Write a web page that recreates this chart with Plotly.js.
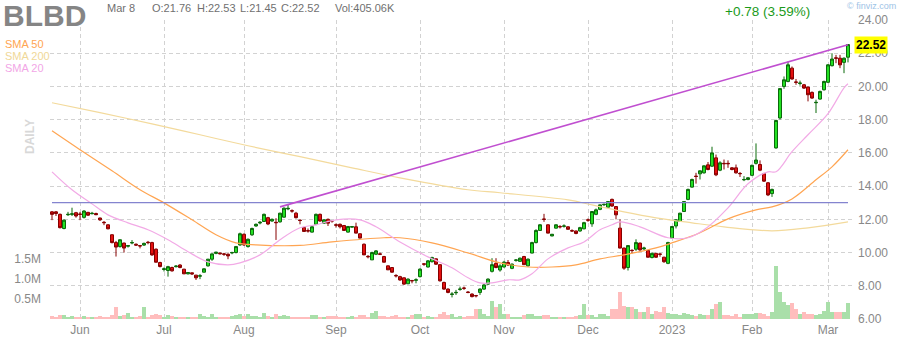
<!DOCTYPE html>
<html>
<head>
<meta charset="utf-8">
<script src="https://cdn.plot.ly/plotly-3.0.1.min.js"></script>
<style>html,body{margin:0;padding:0;background:#fff;}#chart{width:900px;height:340px;}</style>
</head>
<body>
<div id="chart"></div>
<script>
// ---------- data ----------
const firstDay = '2022-05-20';
const lastDay = '2023-03-08';
const holidays = ['2022-05-30','2022-06-20','2022-07-04','2022-09-05','2022-11-24','2022-12-26','2023-01-02','2023-01-16','2023-02-20'];

const opens = [
  12.45,12.45,12.30,11.45,12.28,12.30,12.40,
  12.32,12.12,12.42,12.34,12.35,12.08,11.82,11.67,11.07,10.60,10.36,10.57,10.38,10.58,10.50,10.42,10.45,10.62,10.60,10.20,9.40,
  8.98,8.92,9.10,9.15,9.25,9.00,8.72,8.78,8.64,8.58,8.82,9.20,9.60,9.95,9.97,9.92,9.90,9.98,10.00,10.46,
  11.10,10.36,11.07,11.60,11.78,11.87,12.10,11.90,11.82,11.85,12.13,12.63,12.52,12.37,11.95,11.50,11.32,11.23,11.70,12.30,11.77,12.00,11.92,
  11.67,11.70,11.63,11.23,11.53,11.55,11.13,10.50,9.77,9.56,9.90,9.92,9.76,9.20,9.10,8.62,8.55,8.48,8.12,8.32,8.33,
  8.55,9.32,9.13,9.45,9.62,9.27,8.20,7.80,7.48,7.58,7.78,7.86,7.62,7.50,7.41,7.60,7.80,8.10,8.87,9.35,8.95,
  9.13,9.40,9.05,9.53,9.47,9.76,9.20,9.97,10.60,11.33,12.02,11.67,11.00,11.47,11.57,11.58,11.55,11.32,11.30,11.30,11.43,
  11.97,11.73,12.30,12.60,12.88,12.73,13.20,12.77,11.47,10.27,9.10,10.13,10.20,10.57,10.22,10.12,9.70,9.95,9.91,9.72,9.35,
  10.87,11.60,11.87,12.47,13.20,13.94,14.60,14.74,14.80,15.28,15.20,15.70,14.96,15.37,15.37,15.10,15.10,14.76,14.38,14.40,
  14.65,15.37,15.30,14.75,14.20,13.55,16.30,18.10,20.00,20.30,21.10,20.27,20.18,20.10,19.96,19.64,19.02,19.24,19.80,
  20.25,21.25,21.72,21.70,21.45,21.76
];
const highs = [
  12.50,12.50,12.35,12.00,12.45,12.70,12.45,
  12.45,12.55,12.45,12.45,12.40,12.10,11.90,11.70,11.10,10.70,10.80,10.60,10.45,10.75,10.55,10.45,10.60,10.70,10.65,10.25,9.45,
  9.10,9.20,9.15,9.25,9.30,9.02,8.82,8.80,8.66,8.70,9.05,9.62,9.95,10.05,10.00,9.98,9.95,10.05,10.40,11.20,
  11.15,10.85,11.50,11.75,11.90,12.35,12.15,12.05,12.07,12.40,12.72,12.90,12.60,12.45,12.00,11.55,11.45,11.60,12.35,12.35,12.00,12.05,11.95,
  11.75,11.75,11.65,11.60,11.60,11.80,11.15,10.55,9.85,10.05,10.15,10.00,9.80,9.22,9.12,8.70,8.60,8.50,8.45,8.35,8.45,
  9.05,9.35,9.55,9.75,9.65,9.30,8.25,7.85,7.62,7.75,7.95,7.95,7.68,7.55,7.45,7.85,8.10,8.45,9.66,9.66,9.30,
  9.50,9.55,9.35,9.60,9.70,9.80,9.65,10.65,11.40,11.72,12.33,11.70,11.12,11.70,11.65,11.70,11.58,11.40,11.32,11.55,11.85,
  12.05,12.50,12.65,12.90,12.95,13.10,13.25,12.80,12.00,10.30,10.45,10.20,10.80,10.60,10.35,10.15,10.00,9.98,9.95,9.75,10.65,
  11.60,12.00,12.40,13.10,13.85,14.45,14.80,14.95,15.25,15.45,16.37,15.90,15.50,15.60,15.55,15.15,15.30,14.85,14.60,14.55,
  15.30,16.57,15.55,14.80,14.25,13.85,18.00,19.90,20.60,21.50,21.20,20.45,20.35,20.15,20.00,19.70,19.20,19.75,20.35,
  21.35,22.00,21.90,21.90,21.75,22.53
];
const lows = [
  11.95,12.20,11.45,11.40,12.20,12.20,12.10,
  11.95,12.05,12.20,12.30,12.25,11.90,11.65,11.40,10.55,9.76,10.30,10.00,10.30,10.50,10.40,10.25,10.40,10.50,9.80,9.40,9.10,
  8.86,8.55,8.85,9.10,9.05,8.70,8.68,8.65,8.35,8.40,8.80,9.15,9.50,9.90,9.88,9.80,9.60,9.90,9.95,10.40,
  10.40,10.30,11.00,11.55,11.70,11.85,11.65,11.85,10.76,11.80,12.10,12.55,12.40,12.05,11.70,11.25,11.20,11.20,11.65,11.85,11.72,11.60,11.80,
  11.50,11.45,11.30,11.20,11.50,11.15,10.85,9.85,9.65,9.55,9.85,9.85,9.40,8.95,8.78,8.50,8.30,8.05,8.10,8.15,8.15,
  8.50,9.20,9.10,9.40,9.25,8.25,7.75,7.55,7.30,7.45,7.70,7.75,7.55,7.30,7.30,7.45,7.75,8.05,8.80,9.05,8.85,
  9.10,9.20,9.00,9.45,9.45,9.25,9.15,9.95,10.55,11.30,11.85,11.15,10.98,11.45,11.45,11.50,11.38,11.25,11.10,11.25,11.40,
  11.85,11.55,12.25,12.55,12.80,12.70,12.75,12.00,10.25,8.96,8.92,9.95,10.10,10.10,10.15,9.70,9.65,9.68,9.75,9.38,9.30,
  10.85,11.45,11.85,12.45,13.15,13.90,14.15,14.40,14.75,14.95,15.15,14.60,14.90,15.00,15.10,14.95,14.75,14.55,14.30,14.35,
  14.60,15.30,14.90,14.25,13.40,13.35,16.25,18.00,19.86,20.25,20.40,20.10,20.05,19.85,19.10,19.25,18.40,19.20,19.75,
  20.20,21.20,21.40,21.10,20.80,21.45
];
const closes = [
  12.30,12.35,11.50,11.95,12.30,12.33,12.20,
  12.30,12.50,12.25,12.36,12.28,11.97,11.80,11.43,10.60,10.33,10.77,10.27,10.42,10.60,10.45,10.40,10.55,10.60,9.86,9.42,9.16,
  9.02,9.15,8.90,9.18,9.10,8.72,8.80,8.72,8.48,8.60,9.02,9.60,9.92,10.02,9.93,9.90,9.80,10.00,10.36,11.13,
  10.46,10.80,11.45,11.70,11.82,12.30,11.72,12.00,11.80,12.37,12.67,12.66,12.50,12.10,11.93,11.27,11.30,11.55,12.30,11.90,11.97,11.77,11.90,
  11.65,11.55,11.33,11.57,11.56,11.17,10.87,9.86,9.75,10.00,10.10,9.90,9.42,8.96,8.82,8.60,8.35,8.10,8.40,8.30,8.36,
  9.00,9.30,9.50,9.70,9.30,8.30,7.80,7.60,7.50,7.60,7.80,7.85,7.60,7.35,7.40,7.80,8.05,8.40,9.27,9.10,9.20,
  9.42,9.25,9.30,9.55,9.66,9.27,9.60,10.60,11.33,11.67,12.00,11.17,11.10,11.67,11.55,11.60,11.40,11.30,11.15,11.50,11.80,
  11.95,12.47,12.57,12.87,12.90,13.07,12.80,12.27,10.27,9.06,10.42,10.12,10.60,10.16,10.27,9.72,9.95,9.72,9.90,9.45,10.60,
  11.57,11.97,12.37,13.07,13.80,14.40,14.58,14.92,15.22,15.00,16.00,14.68,15.40,15.35,15.35,15.00,14.80,14.75,14.40,14.50,
  15.25,15.57,14.96,14.30,13.47,13.80,17.95,19.87,20.40,21.30,20.45,20.25,20.20,19.90,19.50,19.30,19.04,19.70,20.30,
  21.30,21.65,21.70,21.30,21.70,22.52
];
// volume in thousands of shares
const volumesK = [
  70,60,110,90,60,80,50,
  60,70,50,40,60,80,60,60,100,290,80,90,150,60,60,70,290,60,110,120,100,
  60,90,70,40,60,50,40,50,60,130,80,60,130,60,50,40,60,80,100,120,
  80,130,80,70,60,150,80,60,120,80,110,70,60,60,50,50,60,90,100,60,50,70,80,
  70,60,60,50,80,60,90,100,60,150,200,70,70,60,80,90,60,60,50,100,130,
  130,60,80,60,60,130,170,100,130,60,70,60,70,80,250,250,130,80,460,300,380,
  130,120,60,50,60,90,130,130,80,70,100,100,60,50,60,50,40,40,80,100,380,
  100,100,60,120,130,80,250,250,670,330,300,300,250,180,170,300,130,200,170,300,150,
  120,120,100,150,120,100,80,120,100,100,250,380,420,100,100,80,120,50,120,120,
  130,150,150,120,80,180,1320,670,420,350,400,250,120,180,130,120,100,130,200,
  420,180,170,170,180,405.06
];

const sma50Dates = ['2022-05-20','2022-06-01','2022-06-13','2022-06-23','2022-07-01','2022-07-13','2022-07-21','2022-07-28','2022-08-04','2022-08-19','2022-08-31','2022-09-20','2022-09-26','2022-10-06','2022-10-19','2022-10-31','2022-11-09','2022-11-17','2022-11-28','2022-12-06','2022-12-14','2022-12-27','2023-01-03','2023-01-12','2023-01-24','2023-02-02','2023-02-08','2023-02-15','2023-02-24','2023-03-02','2023-03-08'];
const sma50Vals = [17.33,16.19,14.92,13.78,12.99,11.97,11.07,10.58,10.46,10.43,10.64,10.89,10.89,10.58,9.98,9.38,9.13,9.13,9.26,9.62,9.86,10.28,10.58,11.19,12.03,12.57,12.75,13.23,14.38,15.16,16.19];

const sma200Dates = ['2022-05-20','2022-06-08','2022-06-28','2022-07-15','2022-08-02','2022-08-19','2022-09-08','2022-09-26','2022-10-19','2022-10-31','2022-11-23','2022-12-02','2022-12-14','2022-12-27','2023-01-10','2023-01-23','2023-02-08','2023-02-22','2023-03-08'];
const sma200Vals = [19.02,18.42,17.75,17.09,16.43,15.77,15.10,14.50,13.78,13.60,13.17,12.87,12.45,12.09,11.79,11.55,11.31,11.49,11.85];

const sma20Dates = ['2022-05-20','2022-05-27','2022-06-06','2022-06-10','2022-06-17','2022-06-27','2022-07-05','2022-07-12','2022-07-19','2022-07-26','2022-07-29','2022-08-05','2022-08-12','2022-08-19','2022-08-25','2022-09-01','2022-09-12','2022-09-16','2022-09-26','2022-10-05','2022-10-13','2022-10-19','2022-10-24','2022-10-27','2022-11-02','2022-11-07','2022-11-10','2022-11-16','2022-11-23','2022-11-30','2022-12-06','2022-12-09','2022-12-13','2022-12-20','2022-12-30','2023-01-09','2023-01-13','2023-01-24','2023-01-31','2023-02-07','2023-02-09','2023-02-15','2023-02-22','2023-03-01','2023-03-07','2023-03-08'];
const sma20Vals = [14.86,13.78,12.93,12.27,11.79,11.37,10.77,10.05,9.44,9.26,9.38,9.86,10.77,11.49,11.67,11.97,11.97,11.55,10.64,9.74,9.08,8.48,8.17,8.17,8.36,8.36,8.72,9.62,10.28,10.64,11.37,11.67,11.85,11.55,10.89,10.89,11.37,12.69,14.14,14.86,14.86,16.07,17.09,18.36,19.92,20.16];

const trendDates = ['2022-08-12','2023-03-08'];
const trendVals = [12.75, 22.51];
const supportLevel = 13.0;

const monthTickDates = ['2022-06-01','2022-07-01','2022-08-01','2022-09-01','2022-10-03','2022-11-01','2022-12-01','2023-01-03','2023-02-01','2023-03-01'];
const monthLabels = ['Jun','Jul','Aug','Sep','Oct','Nov','Dec','2023','Feb','Mar'];
const priceTicks = [6,8,10,12,14,16,18,20,22,24];
const volTicksK = [500,1000,1500];
const volTickLabels = ['0.5M','1.0M','1.5M'];

const ticker = 'BLBD';
const headerDate = 'Mar 8';
const lastVolLabel = 'Vol:405.06K';
const changeLabel = '+0.78 (3.59%)';

// ---------- build ----------
function tradingDays(a, b, hol) {
  const out = [];
  const d = new Date(a + 'T00:00:00Z');
  const end = new Date(b + 'T00:00:00Z');
  while (d <= end) {
    const s = d.toISOString().slice(0, 10);
    const wd = d.getUTCDay();
    if (wd !== 0 && wd !== 6 && hol.indexOf(s) < 0) out.push(s);
    d.setUTCDate(d.getUTCDate() + 1);
  }
  return out;
}
const dates = tradingDays(firstDay, lastDay, holidays);
const n = dates.length;
const last = closes[n - 1];

const FONT = 'Liberation Sans, Arial, Helvetica, sans-serif';
const volColors = closes.map((c, i) => c >= opens[i] ? '#a9dfa9' : '#ffbdbd');

const traces = [
  { type: 'bar', x: dates, y: volumesK, xaxis: 'x', yaxis: 'y',
    marker: { color: volColors, line: { width: 0 } }, hoverinfo: 'skip' },
  { type: 'scatter', mode: 'lines', x: sma200Dates, y: sma200Vals, xaxis: 'x', yaxis: 'y2',
    line: { color: '#f3da9c', width: 1.2, shape: 'spline', smoothing: 1 }, hoverinfo: 'skip' },
  { type: 'scatter', mode: 'lines', x: sma50Dates, y: sma50Vals, xaxis: 'x', yaxis: 'y2',
    line: { color: '#ffa552', width: 1.2, shape: 'spline', smoothing: 1 }, hoverinfo: 'skip' },
  { type: 'scatter', mode: 'lines', x: sma20Dates, y: sma20Vals, xaxis: 'x', yaxis: 'y2',
    line: { color: '#f2aae6', width: 1.2, shape: 'spline', smoothing: 1 }, hoverinfo: 'skip' },
  { type: 'scatter', mode: 'lines', x: [dates[0], dates[n - 1]], y: [supportLevel, supportLevel], xaxis: 'x', yaxis: 'y2',
    line: { color: '#8484cf', width: 1.2 }, hoverinfo: 'skip' },
  { type: 'scatter', mode: 'lines', x: trendDates, y: trendVals, xaxis: 'x', yaxis: 'y2',
    line: { color: '#c04fd0', width: 1.6 }, hoverinfo: 'skip' },
  { type: 'candlestick', x: dates, open: opens, high: highs, low: lows, close: closes,
    xaxis: 'x', yaxis: 'y2', whiskerwidth: 0, hoverinfo: 'skip',
    increasing: { line: { color: '#0b6a0b', width: 1 }, fillcolor: '#22e022' },
    decreasing: { line: { color: '#870000', width: 1 }, fillcolor: '#e41010' } }
];

const W = 900, L = 50, R = 48, T = 20, B = 21;
const pw = W - L - R, ph = 340 - T - B;
const px = x => (x - L) / pw;
const py = y => (340 - B - y) / ph;

const ann = [];
function txt(text, x, y, size, color, opts) {
  ann.push(Object.assign({ text: text, xref: 'paper', yref: 'paper', x: px(x), y: py(y),
    xanchor: 'left', yanchor: 'middle', showarrow: false,
    font: { family: FONT, size: size, color: color } }, opts || {}));
}
txt('<b>' + ticker + '</b>', 1, 15, 30, '#858585');
txt(headerDate, 105, 8, 11, '#707070');
txt('O:' + opens[n - 1].toFixed(2), 150, 8, 11, '#707070');
txt('H:' + highs[n - 1].toFixed(2), 195, 8, 11, '#707070');
txt('L:' + lows[n - 1].toFixed(2), 238, 8, 11, '#707070');
txt('C:' + closes[n - 1].toFixed(2), 279, 8, 11, '#707070');
txt(lastVolLabel, 333, 8, 11, '#707070');
txt(changeLabel, 723, 11, 13.5, '#1a9a1a');
txt('© finviz.com', 898, 6, 9, '#9dc3e6', { xanchor: 'right' });
txt('SMA 50', 3, 44, 11, '#ffa552');
txt('SMA 200', 3, 56, 11, '#f0d898');
txt('SMA 20', 3, 68, 11, '#f2a6e6');
txt('<b>DAILY</b>', 30, 137, 12, '#d8d8d8', { xanchor: 'center', textangle: -90 });
ann.push({ text: '<b>' + last.toFixed(2) + '</b>', xref: 'paper', yref: 'y2', x: 1, y: last,
  xanchor: 'left', yanchor: 'middle', xshift: 2, showarrow: false, bgcolor: '#ffff00', borderpad: 1,
  font: { family: FONT, size: 12, color: '#000' } });

const layout = {
  width: W, height: 340,
  margin: { l: L, r: R, t: T, b: B, pad: 0 },
  paper_bgcolor: '#ffffff', plot_bgcolor: '#ffffff',
  showlegend: false,
  bargap: 0, boxgap: 0.25, boxgroupgap: 0,
  hovermode: false,
  xaxis: {
    type: 'category', range: [-0.5, n], tickmode: 'array',
    tickvals: monthTickDates, ticktext: monthLabels,
    showgrid: true, gridcolor: '#d2d2d2', griddash: '4px,3px', gridwidth: 1,
    ticks: '', showline: false, zeroline: false, rangeslider: { visible: false },
    tickfont: { family: FONT, size: 12, color: '#888' }, ticklabelstandoff: 2, fixedrange: true
  },
  yaxis: {
    range: [0, 7475], side: 'left', tickmode: 'array', tickvals: volTicksK, ticktext: volTickLabels,
    showgrid: false, zeroline: false, showline: false, ticks: '',
    tickfont: { family: FONT, size: 12, color: '#888' }, ticklabelstandoff: 8, fixedrange: true
  },
  yaxis2: {
    overlaying: 'y', side: 'right', range: [6, 24], tickmode: 'array', tickvals: priceTicks,
    tickformat: '.2f', showgrid: true, gridcolor: '#d2d2d2', griddash: '4px,3px', gridwidth: 1,
    zeroline: false, showline: false, ticks: '',
    tickfont: { family: FONT, size: 12, color: '#888' }, ticklabelstandoff: 5, fixedrange: true
  },
  annotations: ann
};

Plotly.newPlot('chart', traces, layout, { staticPlot: true, displayModeBar: false });
</script>
</body>
</html>
